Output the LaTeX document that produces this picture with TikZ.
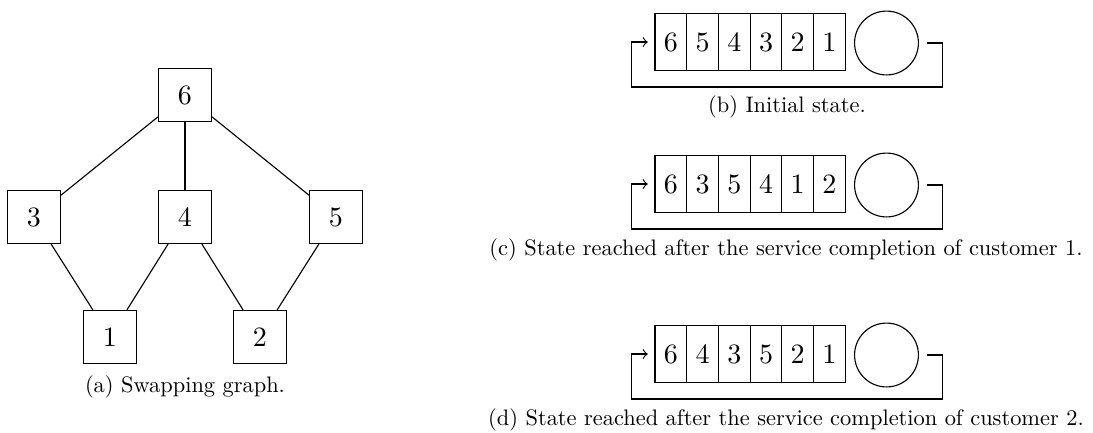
\documentclass[tikz,border=0pt]{standalone}
\usepackage{amsmath,amssymb}
\usepackage{xcolor}
\usepackage{graphicx}
\usepackage{tikz}
\usetikzlibrary{calc,shapes}

\newcommand{\captxt}[1]{\scalebox{0.8}{#1}}

\tikzset{
  gbox/.style={draw, minimum size=18.9pt, inner sep=0pt},
  qcell/.style={draw, minimum width=11.32pt, minimum height=20.3pt, inner sep=0pt},
  server/.style={draw, circle, minimum size=22.8pt, inner sep=0pt},
  loopline/.style={->},
  capt/.style={inner sep=0pt}
}

\begin{document}
\begin{tikzpicture}[x=0.357pt,y=0.357pt,yscale=-1,xscale=1]
%set diagram left start at 0, and has height of 432
\useasboundingbox (0,0) rectangle (1093,432);

%Shape: Square (swapping graph)
\node [gbox] (n6) at (185,95) {6};
\node [gbox] (n3) at (34,217) {3};
\node [gbox] (n4) at (185,217) {4};
\node [gbox] (n5) at (336,217) {5};
\node [gbox] (n1) at (110,337) {1};
\node [gbox] (n2) at (260,337) {2};
%Straight Lines
\draw (n6) -- (n3);
\draw (n6) -- (n4);
\draw (n6) -- (n5);
\draw (n3) -- (n1);
\draw (n4) -- (n1);
\draw (n4) -- (n2);
\draw (n5) -- (n2);
% Text Node
\node [capt] (capa) at (185,387) {\captxt{(a) Swapping graph.}};

%Shape: Rectangle (queue b)
\node [qcell] (qb1) at (670.9,42) {6};
\node [qcell] (qb2) at (702.6,42) {5};
\node [qcell] (qb3) at (734.3,42) {4};
\node [qcell] (qb4) at (766.0,42) {3};
\node [qcell] (qb5) at (797.7,42) {2};
\node [qcell] (qb6) at (829.4,42) {1};
%Shape: Circle
\node [server] (sb) at (886.5,43) {};
%Straight Lines
\draw [loopline] ([xshift=2.9pt]sb.east) -- ++(15,0) -- ++(0,44) -| ([xshift=-8.2pt]qb1.west) -- ([xshift=-2.4pt]qb1.west);
% Text Node
\node [capt] (capb) at (787,107) {\captxt{(b) Initial state.}};

%Shape: Rectangle (queue c)
\node [qcell] (qc1) at (670.9,184) {6};
\node [qcell] (qc2) at (702.6,184) {3};
\node [qcell] (qc3) at (734.3,184) {5};
\node [qcell] (qc4) at (766.0,184) {4};
\node [qcell] (qc5) at (797.7,184) {1};
\node [qcell] (qc6) at (829.4,184) {2};
%Shape: Circle
\node [server] (sc) at (886.5,185) {};
%Straight Lines
\draw [loopline] ([xshift=2.9pt]sc.east) -- ++(15,0) -- ++(0,44) -| ([xshift=-8.2pt]qc1.west) -- ([xshift=-2.4pt]qc1.west);
% Text Node
\node [capt] (capc) at (786,250) {\captxt{(c) State reached after the service completion of customer 1.}};

%Shape: Rectangle (queue d)
\node [qcell] (qd1) at (670.9,354) {6};
\node [qcell] (qd2) at (702.6,354) {4};
\node [qcell] (qd3) at (734.3,354) {3};
\node [qcell] (qd4) at (766.0,354) {5};
\node [qcell] (qd5) at (797.7,354) {2};
\node [qcell] (qd6) at (829.4,354) {1};
%Shape: Circle
\node [server] (sd) at (886.5,355) {};
%Straight Lines
\draw [loopline] ([xshift=2.9pt]sd.east) -- ++(15,0) -- ++(0,44) -| ([xshift=-8.2pt]qd1.west) -- ([xshift=-2.4pt]qd1.west);
% Text Node
\node [capt] (capd) at (786,420) {\captxt{(d) State reached after the service completion of customer 2.}};

\end{tikzpicture}
\end{document}
